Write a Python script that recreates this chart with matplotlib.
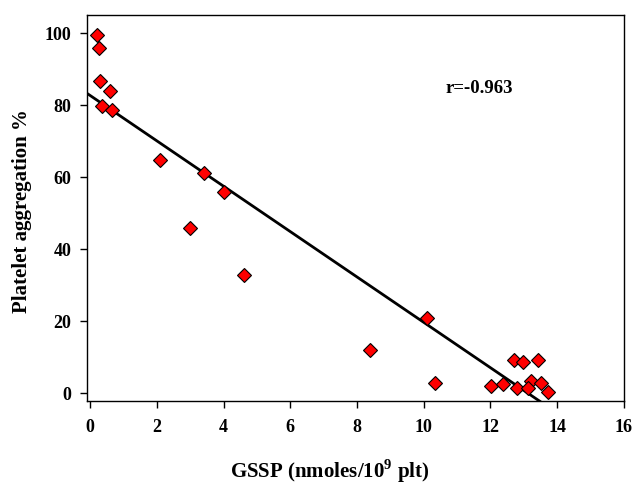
import numpy as np
import matplotlib
matplotlib.use('Agg')
import matplotlib.pyplot as plt

# GSSP content vs platelet aggregation
gssp = [0.2, 0.25, 0.3, 0.6, 0.35, 0.65, 2.1, 3.4, 4.0, 3.0, 4.6, 8.4,
        10.1, 10.33, 12.03, 12.38, 12.7, 12.97, 12.8, 13.43, 13.23, 13.13,
        13.53, 13.73]
aggregation = [99.4, 95.8, 86.8, 84.0, 79.9, 78.8, 64.8, 61.1, 56.0, 46.0,
               32.8, 12.0, 20.9, 2.9, 2.0, 2.5, 9.2, 8.7, 1.6, 9.4, 3.4, 1.4,
               2.8, 0.4]
r_label = 'r=-0.963'

plt.rcParams['font.family'] = 'Liberation Serif'
plt.rcParams['font.weight'] = 'bold'
plt.rcParams['mathtext.fontset'] = 'custom'
plt.rcParams['mathtext.rm'] = 'Liberation Serif:bold'
plt.rcParams['mathtext.bf'] = 'Liberation Serif:bold'

fig = plt.figure(figsize=(6.34, 4.88), dpi=100)
ax = fig.add_axes([0.137, 0.179, 0.847, 0.790])

# linear regression line
slope, intercept = np.polyfit(gssp, aggregation, 1)
xs = np.array([-0.1, 16])
ax.plot(xs, slope * xs + intercept, color='black', lw=2, zorder=2)

ax.plot(gssp, aggregation, linestyle='none', marker='D', ms=7.5,
        mfc='red', mec='black', mew=0.8, zorder=3)

ax.set_xlim(-0.1, 16)
ax.set_ylim(-2, 105)
ax.set_xticks(np.arange(0, 17, 2))
ax.set_yticks(np.arange(0, 101, 20))
ax.tick_params(direction='out', length=5, width=1, labelsize=13)
ax.tick_params(axis='x', pad=8)
ax.tick_params(axis='y', pad=6)
for lab in ax.get_xticklabels() + ax.get_yticklabels():
    lab.set_fontweight('bold')
for sp in ax.spines.values():
    sp.set_linewidth(1)

ax.text(10.65, 84.6, r_label, fontsize=13.5, fontweight='bold', va='center')

fig.text(0.52, 0.035, r'GSSP (nmoles/10$^{\mathbf{9}}$ plt)', fontsize=15,
         fontweight='bold', ha='center', va='center')
fig.text(0.035, 0.568, 'Platelet aggregation %', fontsize=15,
         fontweight='bold', ha='center', va='center', rotation=90)

fig.savefig('out.png', dpi=100)
